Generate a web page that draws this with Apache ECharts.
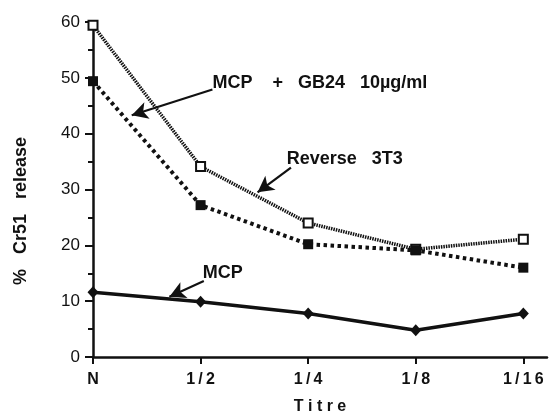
<!DOCTYPE html>
<html>
<head>
<meta charset="utf-8">
<script src="https://cdn.jsdelivr.net/npm/echarts@6/dist/echarts.min.js"></script>
<style>
  html, body { margin: 0; padding: 0; background: #fff; }
  #chart { width: 551px; height: 412px; }
</style>
</head>
<body>
<div id="chart"></div>
<script>
// Titre dilutions along the x axis
const titres = ['N', '1/2', '1/4', '1/8', '1/16'];
// % Cr51 release per titre
const mcpGb24 = [59.4, 34.1, 24.0, 19.3, 21.1];
const reverse3T3 = [49.4, 27.2, 20.2, 19.1, 16.0];
const mcp = [11.6, 9.9, 7.8, 4.8, 7.8];
const yTicks = [0, 10, 20, 30, 40, 50, 60];

// Annotation labels and their pointer arrows, in data coordinates [titre index, % release]
const notes = [
  { text: 'MCP    +   GB24   10µg/ml', at: [1.11, 49.0], from: [1.11, 47.9], to: [0.36, 43.3] },
  { text: 'Reverse   3T3', at: [1.80, 35.5], from: [1.84, 33.9], to: [1.53, 29.5] },
  { text: 'MCP', at: [1.02, 15.0], from: [1.03, 13.6], to: [0.71, 10.8] }
];

const pairs = arr => arr.map((v, i) => [i, v]);
const FONT = '"Liberation Sans", Arial, sans-serif';

const chart = echarts.init(document.getElementById('chart'));
chart.setOption({
  animation: false,
  backgroundColor: '#fff',
  grid: { left: 93, right: 4, top: 22, bottom: 55, containLabel: false, outerBoundsMode: 'none' },
  xAxis: {
    type: 'value', min: 0, max: 4.22, interval: 1,
    axisLine: { lineStyle: { color: '#111', width: 2.5 } },
    axisTick: { show: true, length: 7, lineStyle: { color: '#111', width: 2 } },
    splitLine: { show: false },
    axisLabel: {
      margin: 15, color: '#111', fontFamily: FONT, fontWeight: 'bold', fontSize: 16,
      showMaxLabel: false,
      formatter: v => (Number.isInteger(v) && titres[v] !== undefined) ? titres[v].split('').join('\u2009') : ''
    },
    name: 'T i t r e', nameLocation: 'middle', nameGap: 42,
    nameTextStyle: { color: '#111', fontFamily: FONT, fontWeight: 'bold', fontSize: 16 }
  },
  yAxis: {
    type: 'value', min: yTicks[0], max: yTicks[yTicks.length - 1], interval: 10,
    axisLine: { show: true, lineStyle: { color: '#111', width: 2.5 } },
    axisTick: { show: true, length: 8, lineStyle: { color: '#111', width: 2 } },
    minorTick: { show: true, splitNumber: 2, length: 5, lineStyle: { color: '#111', width: 2 } },
    splitLine: { show: false },
    axisLabel: { margin: 13, color: '#111', fontFamily: FONT, fontSize: 17 }
  },
  series: [
    {
      name: 'MCP + GB24 10µg/ml', type: 'line', data: pairs(mcpGb24), z: 3,
      lineStyle: { color: '#111', width: 3.5, type: [1.5, 1] },
      symbol: 'rect', symbolSize: 9,
      itemStyle: { color: '#fff', borderColor: '#111', borderWidth: 2 }
    },
    {
      name: 'Reverse 3T3', type: 'line', data: pairs(reverse3T3), z: 4,
      lineStyle: { color: '#111', width: 4, type: [3.5, 3.5] },
      symbol: 'rect', symbolSize: 10,
      itemStyle: { color: '#111', borderColor: '#111', borderWidth: 0 }
    },
    {
      name: 'MCP', type: 'line', data: pairs(mcp), z: 5,
      lineStyle: { color: '#111', width: 3.5 },
      symbol: 'diamond', symbolSize: [11, 12],
      itemStyle: { color: '#111' }
    },
    {
      // pointer arrows for the annotations
      type: 'line', data: [], silent: true,
      markLine: {
        silent: true, animation: false,
        symbol: ['none', 'arrow'], symbolSize: [13, 16],
        label: { show: false },
        lineStyle: { color: '#111', width: 2.2, type: 'solid' },
        data: notes.map(n => [{ coord: n.from }, { coord: n.to }])
      }
    }
  ]
});

// Annotation text and the rotated y-axis title
const noteGraphics = notes.map(n => {
  const p = chart.convertToPixel({ gridIndex: 0 }, n.at);
  return {
    type: 'text', x: p[0], y: p[1],
    style: {
      text: n.text, fill: '#111', font: 'bold 18px ' + FONT,
      textVerticalAlign: 'middle', textAlign: 'left'
    }
  };
});
noteGraphics.push({
  type: 'text', x: 21, y: 211, rotation: Math.PI / 2,
  style: {
    text: '%   Cr51   release', fill: '#111', font: 'bold 18px ' + FONT,
    textAlign: 'center', textVerticalAlign: 'middle'
  }
});
chart.setOption({ graphic: noteGraphics });
</script>
</body>
</html>
